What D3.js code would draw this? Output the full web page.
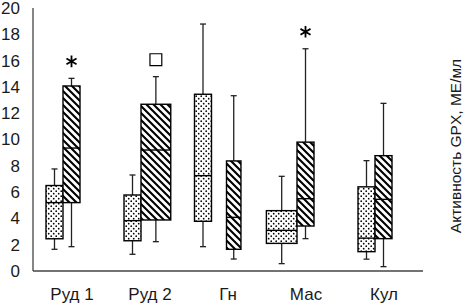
<!DOCTYPE html>
<html>
<head>
<meta charset="utf-8">
<script src="https://cdn.jsdelivr.net/npm/d3@7"></script>
<style>
  body { margin: 0; background: #fff; }
  text { font-family: "Liberation Sans", Arial, sans-serif; fill: #1a1a1a; }
</style>
</head>
<body>
<div id="chart"></div>
<script>
// categories and tick labels
const categories = ["Руд 1", "Руд 2", "Гн", "Мас", "Кул"];
const yTicks = [0, 2, 4, 6, 8, 10, 12, 14, 16, 18, 20];

// dotted series: [whisker low, q1, median, q3, whisker high]
const dottedLow    = [1.65, 1.27, 1.85, 0.56, 0.9];
const dottedQ1     = [2.45, 2.3, 3.78, 2.1, 1.47];
const dottedMedian = [5.2, 3.83, 7.25, 3.09, 2.5];
const dottedQ3     = [6.5, 5.78, 13.44, 4.59, 6.4];
const dottedHigh   = [7.76, 7.3, 18.78, 7.2, 8.39];

// hatched series
const hatchLow    = [1.85, 2.23, 0.91, 2.46, 0.33];
const hatchQ1     = [5.2, 3.88, 1.65, 3.42, 2.46];
const hatchMedian = [9.35, 9.2, 4.08, 5.5, 5.45];
const hatchQ3     = [14.07, 12.68, 8.37, 9.8, 8.77];
const hatchHigh   = [14.65, 14.78, 13.33, 16.9, 12.75];

// significance marks over the hatched boxes
const hatchMarks = ["*", "□", "", "*", ""];

// box width factors and gaps (the original boxes are not all alike)
const dottedWidthK = [1, 1, 1, 1.8, 1];
const hatchWidthK  = [1, 1.75, 0.85, 1, 1];
const pairGap      = [0, 0, 15, 0, 0];

const width = 469, height = 305;
const margin = {left: 33, right: 46, top: 8, bottom: 34};

const svg = d3.select("#chart").append("svg")
    .attr("width", width)
    .attr("height", height);

const defs = svg.append("defs");

const dots = defs.append("pattern")
    .attr("id", "dots")
    .attr("patternUnits", "userSpaceOnUse")
    .attr("width", 5).attr("height", 5);
dots.append("rect").attr("width", 5).attr("height", 5).attr("fill", "#fff");
dots.append("circle").attr("cx", 1.2).attr("cy", 1.2).attr("r", 0.85).attr("fill", "#000");
dots.append("circle").attr("cx", 3.7).attr("cy", 3.7).attr("r", 0.85).attr("fill", "#000");

const hatch = defs.append("pattern")
    .attr("id", "hatch")
    .attr("patternUnits", "userSpaceOnUse")
    .attr("width", 7).attr("height", 7);
hatch.append("rect").attr("width", 7).attr("height", 7).attr("fill", "#fff");
hatch.append("path")
    .attr("d", "M-1,-1L8,8M-1,6L1,8M6,-1L8,1")
    .attr("stroke", "#000")
    .attr("stroke-width", 2.1);

const x = d3.scaleBand()
    .domain(categories)
    .range([margin.left, width - margin.right]);

const y = d3.scaleLinear()
    .domain([0, 20])
    .range([height - margin.bottom, margin.top]);

// y axis labels
const yAxis = svg.append("g")
    .attr("transform", `translate(${margin.left},0)`)
    .call(d3.axisLeft(y).tickValues(yTicks).tickSize(0).tickPadding(13));
yAxis.select(".domain").remove();
yAxis.selectAll("text")
    .style("font-size", "17px")
    .style("font-family", "'Liberation Sans', Arial, sans-serif")
    .attr("fill", "#1a1a1a");

// x axis labels
const xAxis = svg.append("g")
    .attr("transform", `translate(0,${y(0)})`)
    .call(d3.axisBottom(x).tickSize(0).tickPadding(17));
xAxis.select(".domain").remove();
xAxis.selectAll("text")
    .style("font-size", "17px")
    .style("font-family", "'Liberation Sans', Arial, sans-serif")
    .attr("fill", "#1a1a1a");

// axis lines
svg.append("line")
    .attr("x1", margin.left).attr("x2", margin.left)
    .attr("y1", y(20)).attr("y2", y(0))
    .attr("stroke", "#444").attr("stroke-width", 1.3);
svg.append("line")
    .attr("x1", margin.left).attr("x2", width - margin.right)
    .attr("y1", y(0)).attr("y2", y(0))
    .attr("stroke", "#444").attr("stroke-width", 1.3);

const boxW = 17;
const jointShift = -9;

const series = [
  {fill: "url(#dots)", side: -1, low: dottedLow, q1: dottedQ1, med: dottedMedian, q3: dottedQ3, high: dottedHigh, k: dottedWidthK},
  {fill: "url(#hatch)", side: 1, low: hatchLow, q1: hatchQ1, med: hatchMedian, q3: hatchQ3, high: hatchHigh, k: hatchWidthK}
];

function boxLeft(i, side, w) {
  const joint = x(categories[i]) + x.bandwidth() / 2 + jointShift;
  const half = pairGap[i] / 2;
  return side < 0 ? joint - half - w : joint + half;
}

series.forEach(function(s) {
  const rows = categories.map(function(c, i) {
    const w = boxW * s.k[i];
    const x0 = boxLeft(i, s.side, w);
    return {c: c, i: i, x0: x0, w: w, cx: x0 + w / 2,
            low: s.low[i], q1: s.q1[i], med: s.med[i], q3: s.q3[i], high: s.high[i]};
  });

  const g = svg.append("g").selectAll("g")
      .data(rows).enter()
    .append("g");

  // whiskers
  g.append("line")
      .attr("x1", d => d.cx).attr("x2", d => d.cx)
      .attr("y1", d => y(d.high)).attr("y2", d => y(d.q3))
      .attr("stroke", "#222").attr("stroke-width", 1.3);
  g.append("line")
      .attr("x1", d => d.cx).attr("x2", d => d.cx)
      .attr("y1", d => y(d.q1)).attr("y2", d => y(d.low))
      .attr("stroke", "#222").attr("stroke-width", 1.3);
  g.append("line")
      .attr("x1", d => d.cx - 3).attr("x2", d => d.cx + 3)
      .attr("y1", d => y(d.high)).attr("y2", d => y(d.high))
      .attr("stroke", "#222").attr("stroke-width", 1.3);
  g.append("line")
      .attr("x1", d => d.cx - 3).attr("x2", d => d.cx + 3)
      .attr("y1", d => y(d.low)).attr("y2", d => y(d.low))
      .attr("stroke", "#222").attr("stroke-width", 1.3);

  // box
  g.append("rect")
      .attr("x", d => d.x0)
      .attr("y", d => y(d.q3))
      .attr("width", d => d.w)
      .attr("height", d => y(d.q1) - y(d.q3))
      .attr("fill", s.fill)
      .attr("stroke", "#000")
      .attr("stroke-width", 1.4);

  // median
  g.append("line")
      .attr("x1", d => d.x0).attr("x2", d => d.x0 + d.w)
      .attr("y1", d => y(d.med)).attr("y2", d => y(d.med))
      .attr("stroke", "#000").attr("stroke-width", 1.4);
});

// significance marks
categories.forEach(function(c, i) {
  const m = hatchMarks[i];
  if (!m) return;
  const w = boxW * hatchWidthK[i];
  const cx = boxLeft(i, 1, w) + w / 2;
  const cy = y(hatchHigh[i]) - 17;
  if (m === "*") {
    svg.append("path")
        .attr("transform", `translate(${cx},${cy})`)
        .attr("d", d3.symbol().type(d3.symbolAsterisk).size(95)())
        .attr("fill", "none")
        .attr("stroke", "#000")
        .attr("stroke-width", 1.8);
  } else {
    svg.append("path")
        .attr("transform", `translate(${cx},${cy})`)
        .attr("d", d3.symbol().type(d3.symbolSquare).size(140)())
        .attr("fill", "#fff")
        .attr("stroke", "#000")
        .attr("stroke-width", 1.2);
  }
});

// axis title
svg.append("text")
    .attr("transform", `translate(461,146) rotate(-90)`)
    .attr("text-anchor", "middle")
    .style("font-size", "15.5px")
    .text("Активность GPX, МЕ/мл");
</script>
</body>
</html>
